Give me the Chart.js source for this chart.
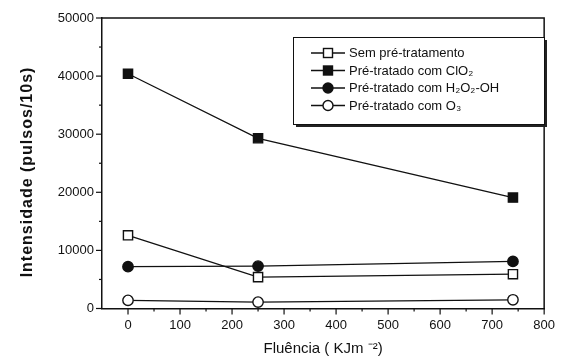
<!DOCTYPE html>
<html>
<head>
<meta charset="utf-8">
<script src="https://cdn.jsdelivr.net/npm/chart.js@4"></script>
<style>
  html, body { margin: 0; padding: 0; background: #fff; }
  #wrap { width: 564px; height: 361px; }
</style>
</head>
<body>
<div id="wrap"><canvas id="chart" width="564" height="361"></canvas></div>
<script>
const fluencia = [0, 250, 740];
const semPre = [12600, 5400, 5900];
const clo2 = [40400, 29300, 19100];
const h2o2 = [7200, 7300, 8100];
const o3 = [1400, 1100, 1500];

const legendLabels = [
  "Sem pré-tratamento",
  "Pré-tratado com ClO₂",
  "Pré-tratado com H₂O₂-OH",
  "Pré-tratado com O₃",
];
const xMajorTicks = [0, 100, 200, 300, 400, 500, 600, 700, 800];
const yMajorTicks = [0, 10000, 20000, 30000, 40000, 50000];
const yTitle = "Intensidade (pulsos/10s)";

const FONT = "'Liberation Sans', Arial, sans-serif";
const INK = "#111";

function pts(ys) {
  return fluencia.map((x, i) => ({ x, y: ys[i] }));
}

function series(label, ys, style, filled) {
  return {
    label,
    data: pts(ys),
    showLine: true,
    borderColor: INK,
    borderWidth: 1.3,
    pointStyle: style,
    pointRadius: style === "rect" ? 6.5 : 5.2,
    pointBorderWidth: 1.4,
    pointBorderColor: INK,
    pointBackgroundColor: filled ? INK : "#fff",
  };
}

// axis ticks (major + minor), frame, y title and the boxed legend
const decorPlugin = {
  id: "decor",
  afterDatasetsDraw(chart) {
    const { ctx, chartArea: a } = chart;
    const xs = chart.scales.x, ys = chart.scales.y;
    ctx.save();
    ctx.strokeStyle = INK;
    ctx.lineWidth = 1.5;
    // frame top/right
    ctx.beginPath();
    ctx.moveTo(a.left, a.top);
    ctx.lineTo(a.right, a.top);
    ctx.lineTo(a.right, a.bottom);
    ctx.stroke();

    ctx.lineWidth = 1.2;
    for (let v = 0; v <= 50000; v += 5000) {
      const y = ys.getPixelForValue(v);
      const len = v % 10000 === 0 ? 6 : 3;
      ctx.beginPath();
      ctx.moveTo(a.left - len, y);
      ctx.lineTo(a.left, y);
      ctx.stroke();
    }
    for (let v = 0; v <= 800; v += 50) {
      const x = xs.getPixelForValue(v);
      const len = v % 100 === 0 ? 6 : 3;
      ctx.beginPath();
      ctx.moveTo(x, a.bottom);
      ctx.lineTo(x, a.bottom + len);
      ctx.stroke();
    }

    // y title
    ctx.save();
    ctx.translate(28, 172);
    ctx.rotate(-Math.PI / 2);
    ctx.font = "bold 16px " + FONT;
    ctx.letterSpacing = "1px";
    ctx.fillStyle = INK;
    ctx.textAlign = "center";
    ctx.textBaseline = "middle";
    ctx.fillText(yTitle, 0, 0);
    ctx.restore();

    // legend box
    const bx = 293, by = 37, bw = 251, bh = 87;
    ctx.fillStyle = "#222";
    ctx.fillRect(bx + 3, by + 3, bw, bh);
    ctx.fillStyle = "#fff";
    ctx.fillRect(bx, by, bw, bh);
    ctx.lineWidth = 1;
    ctx.strokeRect(bx + 0.5, by + 0.5, bw, bh);

    ctx.font = "13px " + FONT;
    ctx.textBaseline = "middle";
    chart.data.datasets.forEach((ds, i) => {
      const y = 53 + i * 17.5;
      ctx.strokeStyle = INK;
      ctx.lineWidth = 1.3;
      ctx.beginPath();
      ctx.moveTo(311, y);
      ctx.lineTo(345, y);
      ctx.stroke();
      ctx.fillStyle = ds.pointBackgroundColor;
      ctx.lineWidth = 1.4;
      if (ds.pointStyle === "rect") {
        ctx.fillRect(323.5, y - 4.5, 9, 9);
        ctx.strokeRect(323.5, y - 4.5, 9, 9);
      } else {
        ctx.beginPath();
        ctx.arc(328, y, 5, 0, Math.PI * 2);
        ctx.fill();
        ctx.stroke();
      }
      ctx.fillStyle = INK;
      ctx.fillText(ds.label, 349, y + 0.5);
    });
    ctx.restore();
  },
};

new Chart(document.getElementById("chart"), {
  type: "scatter",
  data: {
    datasets: [
      series(legendLabels[0], semPre, "rect", false),
      series(legendLabels[1], clo2, "rect", true),
      series(legendLabels[2], h2o2, "circle", true),
      series(legendLabels[3], o3, "circle", false),
    ],
  },
  options: {
    responsive: false,
    animation: false,
    layout: { padding: { left: 0, top: 18, right: 14.5, bottom: 0 } },
    plugins: { legend: { display: false }, tooltip: { enabled: false } },
    scales: {
      x: {
        type: "linear",
        min: -50,
        max: 800,
        afterBuildTicks: (s) => { s.ticks = xMajorTicks.map((v) => ({ value: v })); },
        afterFit: (s) => { s.height = 52.5; },
        ticks: { color: INK, font: { family: FONT, size: 13 }, padding: 9, maxRotation: 0, callback: (v) => String(v) },
        grid: { display: false, drawTicks: false },
        border: { display: true, color: INK, width: 1.5 },
        title: {
          display: true,
          text: "Fluência ( KJm ⁻²)",
          color: INK,
          font: { family: FONT, size: 15 },
          padding: { top: 0, bottom: 3 },
        },
      },
      y: {
        min: 0,
        max: 50000,
        afterBuildTicks: (s) => { s.ticks = yMajorTicks.map((v) => ({ value: v })); },
        afterFit: (s) => { s.width = 102; },
        ticks: { color: INK, font: { family: FONT, size: 13 }, padding: 8, callback: (v) => String(v) },
        grid: { display: false, drawTicks: false },
        border: { display: true, color: INK, width: 1.5 },
      },
    },
  },
  plugins: [decorPlugin],
});
</script>
</body>
</html>
